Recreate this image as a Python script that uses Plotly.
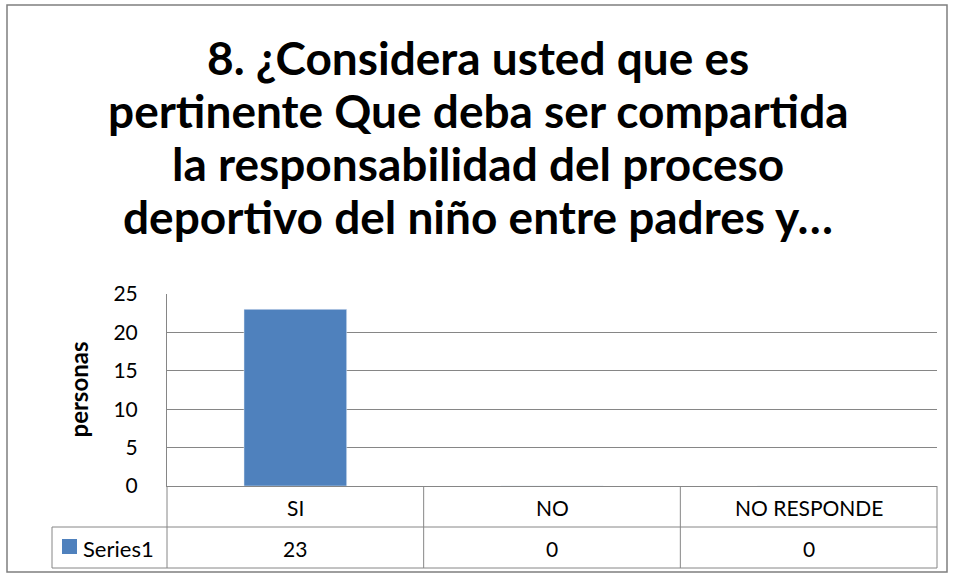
import plotly.graph_objects as go

categories = ["SI", "NO", "NO RESPONDE"]
values = [23, 0, 0]
series_name = "Series1"
title_lines = [
    "8. ¿Considera usted que es",
    "pertinente Que deba ser compartida",
    "la responsabilidad del proceso",
    "deportivo del niño entre padres y…",
]
y_label = "personas"

W, H = 954, 578
L, R, T, B = 167, 937, 294, 486  # plot area in pixels
BLUE = "#4F81BD"
GRID = "#868686"
FONT = "Lato"


def px_x(px):
    return (px - L) / (R - L)


def px_y(py):
    return (B - py) / (B - T)


fig = go.Figure(
    go.Bar(x=categories, y=values, marker_color=BLUE, name=series_name, width=0.4)
)

shapes = []
line = dict(color=GRID, width=1)
# outer chart border
shapes.append(dict(type="rect", xref="paper", yref="paper",
                   x0=px_x(7), x1=px_x(947), y0=px_y(572), y1=px_y(5),
                   line=dict(color="#7f7f7f", width=1.5)))
# data table lines
row1, row2 = px_y(527), px_y(568)
for i in range(len(categories) + 1):
    xp = i / len(categories)
    shapes.append(dict(type="line", xref="paper", yref="paper",
                       x0=xp, x1=xp, y0=0, y1=row2, line=line))
shapes.append(dict(type="line", xref="paper", yref="paper",
                   x0=px_x(52), x1=px_x(52), y0=row1, y1=row2, line=line))
for yy in (row1, row2):
    shapes.append(dict(type="line", xref="paper", yref="paper",
                       x0=px_x(52), x1=1, y0=yy, y1=yy, line=line))
# legend key
shapes.append(dict(type="rect", xref="paper", yref="paper",
                   x0=px_x(62), x1=px_x(77), y0=px_y(554), y1=px_y(539),
                   fillcolor=BLUE, line=dict(width=0)))

annotations = []
title_y = [57, 110, 163, 216]
for txt, ty in zip(title_lines, title_y):
    annotations.append(dict(text="<b>" + txt + "</b>", x=px_x(478), y=px_y(ty),
                            xref="paper", yref="paper", showarrow=False,
                            xanchor="center", yanchor="middle",
                            font=dict(family=FONT, size=46, color="black")))
annotations.append(dict(text="<b>" + y_label + "</b>", x=px_x(61), y=0.5,
                        xref="paper", yref="paper", showarrow=False, textangle=-90,
                        font=dict(family=FONT, size=24, color="black")))
for c, v in zip(categories, values):
    annotations.append(dict(text=c, x=c, y=px_y(507), xref="x", yref="paper",
                            showarrow=False, yanchor="middle",
                            font=dict(family=FONT, size=21, color="black")))
    annotations.append(dict(text=str(v), x=c, y=px_y(548), xref="x", yref="paper",
                            showarrow=False, yanchor="middle",
                            font=dict(family=FONT, size=21, color="black")))
annotations.append(dict(text=series_name, x=px_x(81), y=px_y(548), xref="paper",
                        yref="paper", showarrow=False, xanchor="left", yanchor="middle",
                        font=dict(family=FONT, size=22, color="black")))

fig.update_layout(
    width=W, height=H,
    margin=dict(l=L, r=W - R, t=T, b=H - B),
    paper_bgcolor="white", plot_bgcolor="white",
    showlegend=False,
    shapes=shapes,
    annotations=annotations,
    font=dict(family=FONT, color="black"),
)
fig.update_yaxes(range=[0, 25], dtick=5, showgrid=True, gridcolor=GRID, gridwidth=1,
                 showline=True, linecolor=GRID, linewidth=1, zeroline=False,
                 ticks="", ticklabelstandoff=24, tickfont=dict(size=21, family=FONT))
fig.update_xaxes(showticklabels=False, showline=True, linecolor=GRID, linewidth=1,
                 showgrid=False, zeroline=False)

# drop the browser's default 8px body margin so the figure sits at the page corner
fig.write_html("out.html", config={"displayModeBar": False},
               post_script="document.body.style.margin='0';")
